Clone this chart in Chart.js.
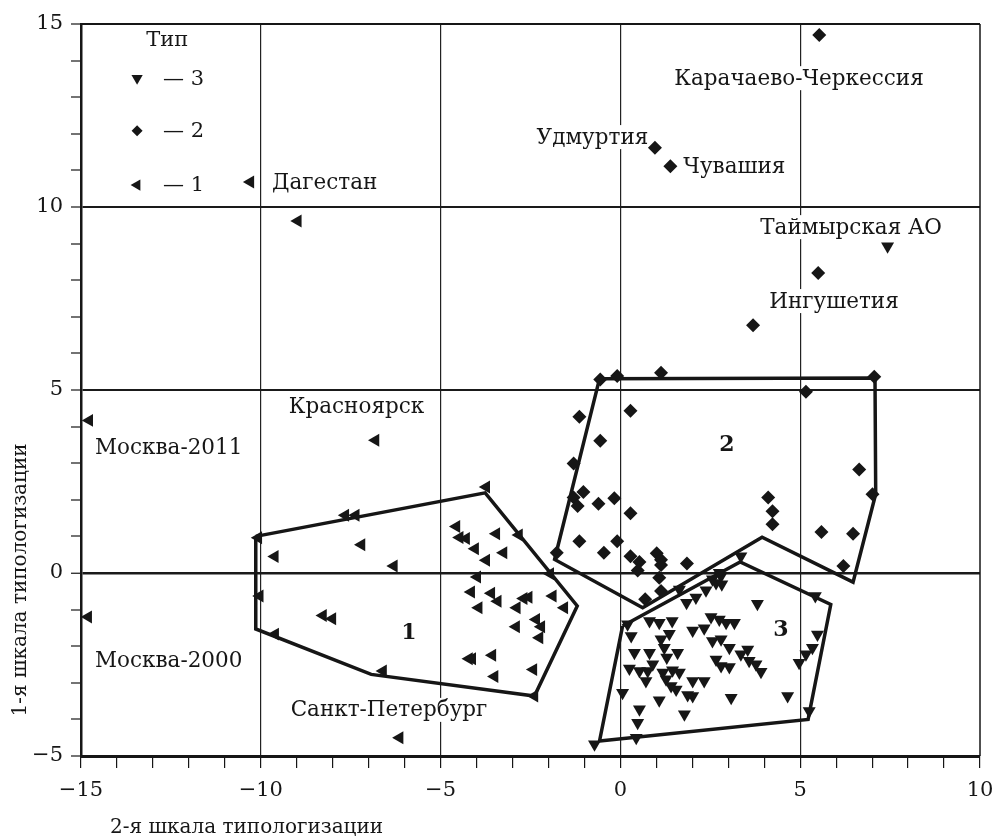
<!DOCTYPE html>
<html>
<head>
<meta charset="utf-8">
<script src="https://cdn.jsdelivr.net/npm/chart.js@4/dist/chart.umd.min.js"></script>
<style>
  html, body { margin: 0; padding: 0; background: #fff; }
  #wrap { width: 997px; height: 840px; }
</style>
</head>
<body>
<div id="wrap"><canvas id="chart"></canvas></div>
<script>
// Тип 1 (left triangles)
const type1 = [
  [-14.77,4.17],[-14.8,-1.2],[-10.29,10.68],[-8.97,9.62],[-6.81,3.63],[-6.14,-4.5],
  [-10.07,0.96],[-9.61,0.45],[-10.03,-0.63],[-9.6,-1.67],[-3.73,2.35],[-7.65,1.58],
  [-7.36,1.58],[-7.2,0.77],[-6.3,0.19],[-4.56,1.27],[-4.47,0.97],[-4.29,0.94],
  [-4.04,0.66],[-3.73,0.35],[-3.45,1.07],[-3.25,0.55],[-2.82,1.04],[-3.98,-0.11],
  [-4.15,-0.52],[-3.59,-0.55],[-3.41,-0.77],[-3.94,-0.95],[-2.88,-0.95],[-2.69,-0.7],
  [-2.55,-0.66],[-1.88,-0.63],[-1.56,-0.95],[-1.95,-0.02],[-2.9,-1.47],[-2.34,-1.27],
  [-2.2,-1.47],[-2.25,-1.77],[-8.27,-1.16],[-8.01,-1.25],[-4.21,-2.34],[-4.12,-2.34],
  [-3.56,-2.25],[-3.5,-2.83],[-2.42,-2.64],[-2.39,-3.36],[-6.6,-2.68]
];
// Тип 2 (diamonds)
const type2 = [
  [5.53,14.7],[0.96,11.62],[1.39,11.11],[5.5,8.2],[3.69,6.77],[-0.56,5.29],
  [-0.09,5.38],[1.13,5.47],[7.06,5.36],[5.16,4.95],[-1.14,4.27],[0.28,4.43],
  [-0.56,3.61],[-1.3,2.99],[-1.03,2.21],[-1.3,2.06],[-1.19,1.83],[-0.61,1.89],
  [-0.17,2.04],[0.28,1.63],[6.64,2.83],[7.01,2.15],[4.11,2.06],[4.23,1.69],
  [4.23,1.33],[5.59,1.12],[6.47,1.07],[6.2,0.19],[-1.14,0.87],[-0.09,0.87],
  [-0.46,0.55],[-1.77,0.55],[0.28,0.46],[0.53,0.3],[0.48,0.07],[1.01,0.54],
  [1.13,0.36],[1.13,0.22],[1.85,0.26],[1.08,-0.13],[1.13,-0.49],[0.69,-0.72]
];
// Тип 3 (down triangles)
const type3 = [
  [7.43,8.93],[3.35,0.46],[2.8,-0.08],[2.75,0.01],[2.56,-0.17],[2.66,-0.27],[2.82,-0.31],
  [2.38,-0.47],[2.1,-0.67],[1.84,-0.81],[1.64,-0.45],[3.81,-0.84],[5.42,-0.63],
  [0.2,-1.4],[0.81,-1.31],[1.08,-1.36],[1.44,-1.31],[0.3,-1.72],[1.36,-1.66],
  [2.01,-1.57],[2.33,-1.51],[2.52,-1.2],[2.75,-1.27],[2.94,-1.36],[3.17,-1.36],
  [2.56,-1.86],[2.8,-1.81],[3.03,-2.04],[3.54,-2.09],[3.35,-2.22],[5.48,-1.68],
  [5.34,-2.04],[5.16,-2.22],[4.97,-2.45],[1.13,-1.81],[1.22,-2.04],[1.29,-2.31],
  [0.39,-2.18],[0.81,-2.18],[1.59,-2.18],[0.9,-2.49],[0.25,-2.61],[0.53,-2.68],
  [0.76,-2.68],[0.71,-2.95],[1.18,-2.72],[1.45,-2.66],[1.64,-2.72],[1.27,-2.9],
  [1.41,-3.09],[1.55,-3.18],[2.66,-2.36],[2.8,-2.54],[3.03,-2.57],[3.58,-2.4],
  [3.77,-2.49],[3.91,-2.7],[2.01,-2.95],[2.33,-2.95],[1.87,-3.33],[2.01,-3.36],
  [0.06,-3.27],[1.08,-3.48],[3.08,-3.41],[4.65,-3.36],[5.25,-3.77],[0.53,-3.72],
  [0.48,-4.09],[1.78,-3.86],[0.44,-4.5],[-0.72,-4.68]
];

// cluster outlines
const hull1 = [[-10.14,1.0],[-3.76,2.19],[-1.2,-0.9],[-2.39,-3.36],[-6.93,-2.77],[-10.14,-1.53],[-10.14,1.0]];
const hull2 = [[-0.58,5.31],[7.08,5.33],[7.1,2.16],[6.47,-0.25],[3.94,0.98],[0.62,-0.95],[-1.83,0.37],[-0.58,5.31]];
const hull3 = [[0.06,-1.45],[3.33,0.3],[5.85,-0.86],[5.22,-4.0],[-0.58,-4.59],[0.06,-1.45]];

// region labels (left edge x, middle y)
const regionNames = ['Москва-2011','Москва-2000','Красноярск','Дагестан','Санкт-Петербург',
  'Удмуртия','Чувашия','Карачаево-Черкессия','Таймырская АО','Ингушетия'];
const regionX = [-14.61,-14.61,-9.22,-9.69,-9.17,-2.33,1.75,1.5,3.89,4.14];
const regionY = [3.42,-2.38,4.56,10.68,-3.74,11.91,11.12,13.52,9.45,7.43];

// cluster numbers (centre)
const clusterNames = ['1','2','3'];
const clusterX = [-5.88,2.96,4.46];
const clusterY = [-1.61,3.52,-1.54];

// legend
const legendTitle = 'Тип';
const legendLabels = ['— 3','— 2','— 1'];
const legendRowY = [13.52,12.08,10.6];

const xMin = -15, xMax = 10, yMin = -5, yMax = 15;

const FONT = "'DejaVu Serif', 'Liberation Serif', serif";
const INK = '#161616';

function fmt(v) { return v < 0 ? '\u2212' + Math.abs(v) : String(v); }
function toXY(arr) { return arr.map(p => ({ x: p[0], y: p[1] })); }

function markerPath(ctx, kind, x, y, r) {
  ctx.beginPath();
  if (kind === 'down') {
    ctx.moveTo(x - r * 0.866, y - r * 0.5);
    ctx.lineTo(x + r * 0.866, y - r * 0.5);
    ctx.lineTo(x, y + r);
  } else if (kind === 'left') {
    ctx.moveTo(x + r * 0.5, y - r * 0.866);
    ctx.lineTo(x + r * 0.5, y + r * 0.866);
    ctx.lineTo(x - r, y);
  } else {
    ctx.moveTo(x, y - r);
    ctx.lineTo(x + r, y);
    ctx.lineTo(x, y + r);
    ctx.lineTo(x - r, y);
  }
  ctx.closePath();
  ctx.fill();
}

const textPlugin = {
  id: 'texts',
  beforeDatasetsDraw(chart) {
    const { ctx, scales: { x, y }, chartArea } = chart;
    ctx.save();
    // frame top/right
    ctx.strokeStyle = INK;
    ctx.lineWidth = 2;
    ctx.beginPath();
    ctx.moveTo(chartArea.left, chartArea.top);
    ctx.lineTo(chartArea.right, chartArea.top);
    ctx.stroke();
    ctx.lineWidth = 1.5;
    ctx.beginPath();
    ctx.moveTo(chartArea.right, chartArea.top);
    ctx.lineTo(chartArea.right, chartArea.bottom);
    ctx.stroke();

    ctx.font = '21.5px ' + FONT;
    ctx.textBaseline = 'middle';
    ctx.textAlign = 'left';
    regionNames.forEach((t, i) => {
      const px = x.getPixelForValue(regionX[i]);
      const py = y.getPixelForValue(regionY[i]);
      const w = ctx.measureText(t).width;
      ctx.fillStyle = '#fff';
      ctx.fillRect(px - 2, py - 12, w + 4, 24);
      ctx.fillStyle = INK;
      ctx.fillText(t, px, py + 1);
    });

    ctx.font = 'bold 22px ' + FONT;
    ctx.textAlign = 'center';
    clusterNames.forEach((t, i) => {
      ctx.fillStyle = INK;
      ctx.fillText(t, x.getPixelForValue(clusterX[i]), y.getPixelForValue(clusterY[i]) + 1);
    });

    // legend
    ctx.font = '21px ' + FONT;
    ctx.fillStyle = INK;
    ctx.textAlign = 'center';
    ctx.fillText(legendTitle, x.getPixelForValue(-12.6), y.getPixelForValue(14.55));
    const kinds = ['down', 'diamond', 'left'];
    ctx.textAlign = 'left';
    legendLabels.forEach((t, i) => {
      const py = y.getPixelForValue(legendRowY[i]);
      markerPath(ctx, kinds[i], x.getPixelForValue(-13.44), py, kinds[i] === 'diamond' ? 5.5 : 6.5);
      ctx.fillText(t, x.getPixelForValue(-12.72), py + 1);
    });
    ctx.restore();
  },
  afterDraw(chart) {
    const { ctx } = chart;
    ctx.save();
    ctx.fillStyle = INK;
    ctx.font = '20px ' + FONT;
    ctx.textBaseline = 'middle';
    ctx.textAlign = 'left';
    ctx.fillText('2-я шкала типологизации', 110, 828);
    ctx.translate(21, 580);
    ctx.rotate(-Math.PI / 2);
    ctx.textAlign = 'center';
    ctx.fillText('1-я шкала типологизации', 0, 0);
    ctx.restore();
  }
};

function pointSet(data, style, rotation, radius) {
  return {
    data: toXY(data),
    pointStyle: style,
    rotation: rotation,
    pointRadius: radius,
    pointHoverRadius: radius,
    backgroundColor: INK,
    borderColor: INK,
    borderWidth: 0,
    showLine: false,
    order: 1
  };
}
function hullSet(data) {
  return {
    data: toXY(data),
    showLine: true,
    borderColor: INK,
    borderWidth: 3.5,
    pointRadius: 0,
    fill: false,
    tension: 0,
    borderJoinStyle: 'miter',
    order: 2
  };
}

new Chart(document.getElementById('chart'), {
  type: 'scatter',
  data: {
    datasets: [
      pointSet(type3, 'triangle', 180, 7.5),
      pointSet(type2, 'rectRot', 0, 7),
      pointSet(type1, 'triangle', -90, 7.5),
      hullSet(hull1),
      hullSet(hull2),
      hullSet(hull3)
    ]
  },
  options: {
    responsive: true,
    maintainAspectRatio: false,
    animation: false,
    devicePixelRatio: 1,
    layout: { padding: { left: 0, top: 24, right: 17, bottom: 0 } },
    plugins: { legend: { display: false }, tooltip: { enabled: false } },
    scales: {
      x: {
        type: 'linear',
        min: xMin, max: xMax,
        afterFit: s => { s.height = 84; s.paddingLeft = 0; s.paddingRight = 0; },
        ticks: {
          stepSize: 1, autoSkip: false, maxRotation: 0, padding: 10,
          callback: v => (v % 5 === 0 ? fmt(v) : ''),
          font: { family: FONT, size: 21 }, color: INK
        },
        grid: {
          color: c => (c.tick && c.tick.value % 5 === 0 && c.tick.value > xMin && c.tick.value < xMax) ? '#222' : 'rgba(0,0,0,0)',
          lineWidth: 1.2,
          tickColor: INK,
          tickLength: 12,
          tickWidth: 1.2
        },
        border: { color: INK, width: 3 }
      },
      y: {
        type: 'linear',
        min: yMin, max: yMax,
        afterFit: s => { s.width = 81; s.paddingTop = 0; s.paddingBottom = 0; },
        ticks: {
          stepSize: 1, autoSkip: false, padding: 8,
          callback: v => (v % 5 === 0 ? fmt(v) : ''),
          font: { family: FONT, size: 21 }, color: INK
        },
        grid: {
          color: c => (c.tick && c.tick.value % 5 === 0 && c.tick.value > yMin && c.tick.value < yMax) ? '#1a1a1a' : 'rgba(0,0,0,0)',
          lineWidth: c => (c.tick && c.tick.value === 0 ? 2.5 : 2),
          tickColor: INK,
          tickLength: 10,
          tickWidth: 1.2
        },
        border: { color: INK, width: 2.5 }
      }
    }
  },
  plugins: [textPlugin]
});
</script>
</body>
</html>
